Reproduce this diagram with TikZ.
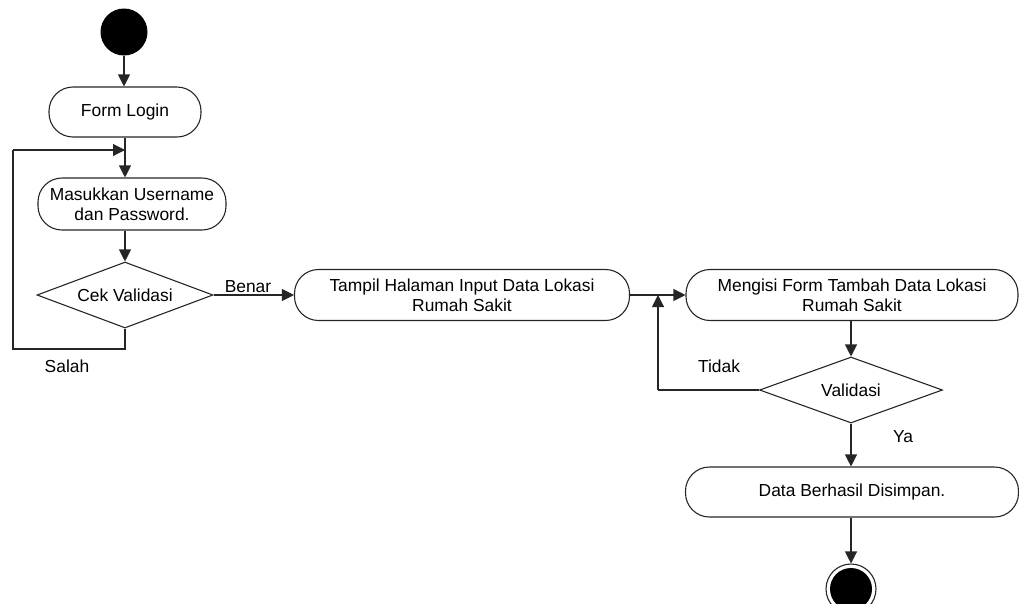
\documentclass[tikz,border=0pt]{standalone}
\usepackage{fontspec}
\setmainfont{Liberation Sans}
\usetikzlibrary{arrows.meta,shapes.geometric}

\tikzset{
  flow/.style={line width=1.1pt, draw=black!85},
  arr/.style={flow, -{Triangle[length=12pt,width=12pt]}},
  activity/.style={draw=black!85, line width=1.1pt, rectangle, rounded corners=24pt,
    align=center, inner sep=0pt, font=\fontsize{17.4}{20}\selectfont},
  decision/.style={draw=black!85, line width=1.1pt, diamond, inner sep=0pt, aspect=2.7,
    font=\fontsize{17.4}{20}\selectfont},
  lbl/.style={font=\fontsize{17.4}{20}\selectfont, inner sep=0pt},
}

\begin{document}
\begin{tikzpicture}[x=1pt, y=-1pt]
  \useasboundingbox (0,0) rectangle (1019,603);

  % start / login branch
  \node[circle, fill=black, minimum size=47pt, inner sep=0pt] (start) at (124,32) {};
  \node[activity, minimum width=152pt, minimum height=50pt] (login) at (125,112) {Form Login};
  \coordinate (join1) at (125,150);
  \node[activity, minimum width=188pt, minimum height=52pt] (masuk) at (132,204)
    {Masukkan Username\\dan Password.};
  \node[decision, minimum width=176pt, minimum height=66pt] (cek) at (125,295) {Cek Validasi};

  \draw[arr] (start) -- (start |- login.north);
  \draw[flow] (login.south) -- (join1);
  \draw[arr] (join1) -- (join1 |- masuk.north);
  \draw[arr] (masuk.south -| cek.north) -- (cek.north);

  % retry loop
  \coordinate (c1) at (125,349);
  \coordinate (c2) at (13,349);
  \coordinate (c3) at (13,150);
  \draw[flow] (cek.south) -- (c1) -- (c2) -- (c3);
  \draw[arr] (c3) -- (join1);
  \node[lbl] (salah) at (67,366) {Salah};

  % input page
  \node[activity, minimum width=335pt, minimum height=51pt] (tampil) at (462,295)
    {Tampil Halaman Input Data Lokasi\\Rumah Sakit};
  \draw[arr] (cek.east) -- (tampil.west);
  \node[lbl] (benar) at (248,287) {Benar};

  % form entry and validation
  \coordinate (join2) at (658,295);
  \node[activity, minimum width=332pt, minimum height=51pt] (isi) at (852,295)
    {Mengisi Form Tambah Data Lokasi\\Rumah Sakit};
  \draw[flow] (tampil.east) -- (join2);
  \draw[arr] (join2) -- (isi.west);

  \node[decision, minimum width=183pt, minimum height=66pt] (valid) at (851,390) {Validasi};
  \draw[arr] (isi.south -| valid.north) -- (valid.north);

  \coordinate (c4) at (658,390);
  \draw[flow] (valid.west) -- (c4);
  \draw[arr] (c4) -- (join2);
  \node[lbl] (tidak) at (719,366) {Tidak};

  \node[activity, minimum width=333pt, minimum height=50pt] (simpan) at (852,492)
    {Data Berhasil Disimpan.};
  \draw[arr] (valid.south) -- (valid.south |- simpan.north);
  \node[lbl] (ya) at (903,437) {Ya};

  % final node
  \node[circle, draw=black!85, line width=1.1pt, minimum size=50pt, inner sep=0pt] (stop) at (851,589) {};
  \fill[black] (stop.center) circle (21pt);
  \draw[arr] (simpan.south -| stop.north) -- (stop.north);
\end{tikzpicture}
\end{document}
